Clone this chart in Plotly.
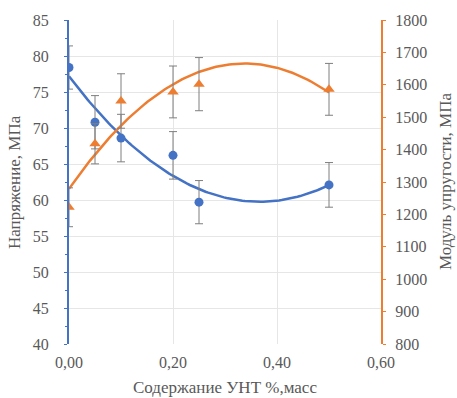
import numpy as np
import plotly.graph_objects as go

# Data
content = [0.00, 0.05, 0.10, 0.20, 0.25, 0.50]
stress = [78.4, 70.8, 68.6, 66.2, 59.7, 62.1]
stress_err = [3.0, 3.7, 3.3, 3.3, 3.0, 3.1]
modulus = [1222, 1418, 1550, 1578, 1602, 1586]
modulus_err = [60, 62, 84, 80, 82, 80]

x_ticks = [0.0, 0.2, 0.4, 0.6]
x_tick_labels = ["0,00", "0,20", "0,40", "0,60"]

x_title = "Содержание УНТ %,масс"
y_title = "Напряжение, МПа"
y2_title = "Модуль упругости, МПа"

BLUE = "#4472C4"
ORANGE = "#ED7D31"
GRAY = "#595959"
FONT = "Liberation Serif"

# quadratic trendlines fitted to the data
xs = np.linspace(min(content), max(content), 100)
p_s = np.polyfit(content, stress, 2)
p_m = np.polyfit(content, modulus, 2)

fig = go.Figure()

fig.add_trace(go.Scatter(x=xs, y=np.polyval(p_s, xs), mode="lines",
                         line=dict(color=BLUE, width=2.5), showlegend=False,
                         hoverinfo="skip"))
fig.add_trace(go.Scatter(x=xs, y=np.polyval(p_m, xs), mode="lines",
                         line=dict(color=ORANGE, width=2.5), showlegend=False,
                         hoverinfo="skip", yaxis="y2"))

fig.add_trace(go.Scatter(x=content, y=stress, mode="markers",
                         marker=dict(color=BLUE, size=9, symbol="circle"),
                         error_y=dict(type="data", array=stress_err, color="#7f7f7f",
                                      thickness=1, width=4),
                         showlegend=False))
fig.add_trace(go.Scatter(x=content, y=modulus, mode="markers", yaxis="y2",
                         marker=dict(color=ORANGE, size=10, symbol="triangle-up"),
                         error_y=dict(type="data", array=modulus_err, color="#7f7f7f",
                                      thickness=1, width=4),
                         showlegend=False))

tickfont = dict(family=FONT, size=16, color=GRAY)
titlefont = dict(family=FONT, size=17, color=GRAY)

fig.update_layout(
    width=457, height=398,
    margin=dict(l=69, r=76, t=20, b=54),
    paper_bgcolor="white", plot_bgcolor="white",
    separators=", ",
    font=dict(family=FONT, size=16, color=GRAY),
    xaxis=dict(range=[0, 0.6], tickvals=x_ticks, ticktext=x_tick_labels,
               showgrid=True, gridcolor="#e6e6e6", gridwidth=1,
               zeroline=False, showline=False, ticks="", automargin=False,
               ticklabelstandoff=7, tickfont=tickfont),
    yaxis=dict(range=[40, 85], dtick=5, showgrid=True, gridcolor="#e6e6e6",
               zeroline=False, showline=True, linecolor=BLUE, linewidth=2,
               ticks="outside", ticklen=3, tickcolor=BLUE, automargin=False,
               minor=dict(ticks="outside", ticklen=2, tickcolor=BLUE, dtick=2.5),
               ticklabelstandoff=12, tickfont=tickfont),
    yaxis2=dict(range=[800, 1800], dtick=100, overlaying="y", side="right",
                showgrid=False, zeroline=False, showline=True, linecolor=ORANGE,
                linewidth=2, ticks="outside", ticklen=3, tickcolor=ORANGE,
                automargin=False, ticklabelstandoff=6, tickfont=tickfont),
    annotations=[
        dict(text=x_title, xref="paper", yref="paper", x=0.5, y=-0.135,
             xanchor="center", yanchor="middle", showarrow=False, font=titlefont),
        dict(text=y_title, xref="paper", yref="paper", x=-55 / 312, y=0.5,
             xanchor="center", yanchor="middle", textangle=-90, showarrow=False,
             font=titlefont),
        dict(text=y2_title, xref="paper", yref="paper", x=376 / 312, y=0.5,
             xanchor="center", yanchor="middle", textangle=-90, showarrow=False,
             font=titlefont),
    ],
)

fig.write_html("out.html", config={"displayModeBar": False},
               post_script="document.body.style.margin='0';document.body.style.padding='0';")
